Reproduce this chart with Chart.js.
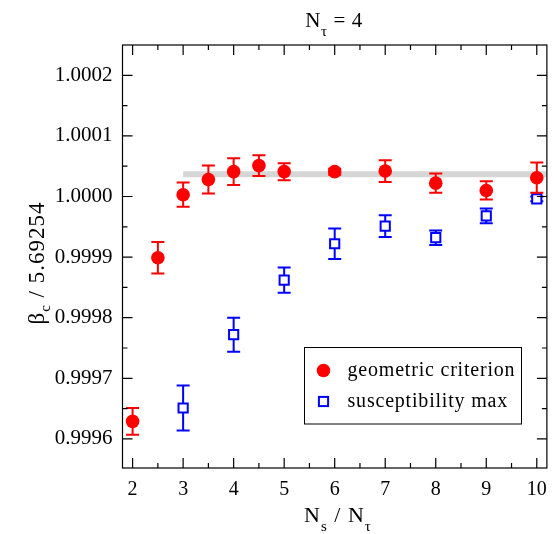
<!DOCTYPE html>
<html>
<head>
<meta charset="utf-8">
<script src="https://cdn.jsdelivr.net/npm/chart.js@4/dist/chart.umd.min.js"></script>
<style>
  body { margin: 0; background: #fff; }
  canvas { display: block; }
</style>
</head>
<body>
<canvas id="myChart" width="557" height="534"></canvas>
<script>
// data
const geoX = [2, 2.5, 3, 3.5, 4, 4.5, 5, 6, 7, 8, 9, 10];
const geoValues = [0.999629, 0.999899, 1.000003, 1.000028, 1.000041, 1.000051, 1.000041, 1.000041, 1.000042, 1.000022, 1.000010, 1.000031];
const geoErrors = [0.000022, 0.000026, 0.000020, 0.000023, 0.000022, 0.000017, 0.000014, 0.000005, 0.000018, 0.000016, 0.000015, 0.000025];

const susX = [3, 4, 5, 6, 7, 8, 9, 10];
const susValues = [0.999651, 0.999772, 0.999862, 0.999922, 0.999951, 0.999932, 0.999968, 0.999996];
const susErrors = [0.000037, 0.000028, 0.000021, 0.000025, 0.000018, 0.000012, 0.000012, 0.000004];

const fitX = [3, 10.2];
const fitValue = 1.0000366;

const xTicks = [2, 3, 4, 5, 6, 7, 8, 9, 10];
const yTicks = [0.9996, 0.9997, 0.9998, 0.9999, 1.0000, 1.0001, 1.0002];

const serif = "'Liberation Serif', 'Times New Roman', serif";
const myChart = document.getElementById("myChart");

const toPoints = (xs, ys) => xs.map((x, i) => ({ x: x, y: ys[i] }));

// draw text with subscripts, parts = [{t, sub}]
const drawParts = (ctx, parts, x, y, size, subSize, subShift, spacing) => {
  ctx.letterSpacing = spacing + "px";
  let widths = parts.map((p) => {
    ctx.font = (p.sub ? subSize : size) + "px " + serif;
    return ctx.measureText(p.t).width;
  });
  let total = widths.reduce((a, b) => a + b, 0);
  let cx = x - total / 2;
  parts.forEach((p, i) => {
    ctx.font = (p.sub ? subSize : size) + "px " + serif;
    ctx.fillText(p.t, cx, y + (p.sub ? subShift : 0));
    cx += widths[i];
  });
  ctx.letterSpacing = "0px";
};

const errorBars = {
  id: "errorBars",
  beforeDatasetDraw(chart, args) {
    const ds = chart.data.datasets[args.index];
    if (!ds.errors) return;
    const ctx = chart.ctx;
    const y = chart.scales.y;
    ctx.save();
    ctx.strokeStyle = ds.borderColor;
    ctx.lineWidth = 2;
    args.meta.data.forEach((pt, j) => {
      const v = ds.data[j].y;
      const e = ds.errors[j];
      const top = y.getPixelForValue(v + e);
      const bot = y.getPixelForValue(v - e);
      ctx.beginPath();
      ctx.moveTo(pt.x, top);
      ctx.lineTo(pt.x, bot);
      ctx.moveTo(pt.x - 6.5, top);
      ctx.lineTo(pt.x + 6.5, top);
      ctx.moveTo(pt.x - 6.5, bot);
      ctx.lineTo(pt.x + 6.5, bot);
      ctx.stroke();
    });
    ctx.restore();
  },
};

const frame = {
  id: "frame",
  afterDraw(chart) {
    const ctx = chart.ctx;
    const a = chart.chartArea;
    const xs = chart.scales.x;
    const ys = chart.scales.y;
    ctx.save();
    ctx.strokeStyle = "#000";
    ctx.lineWidth = 1.2;
    ctx.strokeRect(a.left, a.top, a.right - a.left, a.bottom - a.top);

    // inward ticks on all four sides
    ctx.beginPath();
    for (let v = 2; v <= 10.001; v += 0.5) {
      const px = xs.getPixelForValue(v);
      const len = Number.isInteger(v) ? 10 : 5;
      ctx.moveTo(px, a.bottom);
      ctx.lineTo(px, a.bottom - len);
      ctx.moveTo(px, a.top);
      ctx.lineTo(px, a.top + len);
    }
    for (let k = 0; k <= 12; k++) {
      const v = 0.9996 + k * 0.00005;
      const py = ys.getPixelForValue(v);
      const len = k % 2 === 0 ? 10 : 5;
      ctx.moveTo(a.left, py);
      ctx.lineTo(a.left + len, py);
      ctx.moveTo(a.right, py);
      ctx.lineTo(a.right - len, py);
    }
    ctx.stroke();

    // titles
    ctx.fillStyle = "#000";
    ctx.textBaseline = "alphabetic";
    drawParts(ctx, [{ t: "N" }, { t: "τ", sub: true }, { t: " = 4" }], 334, 27, 21, 15, 9, 0.6);
    drawParts(ctx, [{ t: "N" }, { t: "s", sub: true }, { t: " / N" }, { t: "τ", sub: true }], 338, 522, 22, 15, 9, 1);
    ctx.save();
    ctx.translate(44, 263);
    ctx.rotate(-Math.PI / 2);
    drawParts(ctx, [{ t: "β" }, { t: "c", sub: true }, { t: " / 5.69254" }], 0, 0, 23, 15, 6, 1);
    ctx.restore();

    // legend
    ctx.fillStyle = "#fff";
    ctx.fillRect(304.5, 347.5, 217, 76.5);
    ctx.lineWidth = 1;
    ctx.strokeStyle = "#000";
    ctx.strokeRect(304.5, 347.5, 217, 76.5);
    const geo = chart.data.datasets[0];
    const sus = chart.data.datasets[1];
    ctx.fillStyle = geo.backgroundColor;
    ctx.beginPath();
    ctx.arc(323.5, 370.5, geo.pointRadius, 0, Math.PI * 2);
    ctx.fill();
    ctx.fillStyle = "#fff";
    ctx.strokeStyle = sus.borderColor;
    ctx.lineWidth = 2;
    const s = sus.pointRadius / Math.SQRT2;
    ctx.fillRect(323.5 - s, 401.5 - s, 2 * s, 2 * s);
    ctx.strokeRect(323.5 - s, 401.5 - s, 2 * s, 2 * s);
    ctx.fillStyle = "#000";
    ctx.font = "20px " + serif;
    ctx.letterSpacing = "0.8px";
    ctx.textBaseline = "middle";
    ctx.fillText(geo.label, 347.5, 370.5);
    ctx.fillText(sus.label, 347.5, 401.5);
    ctx.letterSpacing = "0px";
    ctx.restore();
  },
};

let betaChart = new Chart(myChart, {
  type: "scatter",
  data: {
    datasets: [
      {
        label: "geometric criterion",
        data: toPoints(geoX, geoValues),
        errors: geoErrors,
        pointStyle: "circle",
        pointRadius: 6.8,
        backgroundColor: "#ff0000",
        borderColor: "#ff0000",
        borderWidth: 0,
        order: 1,
      },
      {
        label: "susceptibility max",
        data: toPoints(susX, susValues),
        errors: susErrors,
        pointStyle: "rect",
        pointRadius: 6.5,
        backgroundColor: "#ffffff",
        borderColor: "#0000ff",
        borderWidth: 2,
        order: 2,
      },
      {
        type: "line",
        label: "fit",
        data: toPoints(fitX, [fitValue, fitValue]),
        borderColor: "#d6d6d6",
        borderWidth: 6,
        pointRadius: 0,
        fill: false,
        order: 3,
      },
    ],
  },
  options: {
    responsive: false,
    animation: false,
    devicePixelRatio: 1,
    layout: { padding: { top: 45, right: 9, left: 0, bottom: 0 } },
    plugins: {
      legend: { display: false },
      tooltip: { enabled: false },
    },
    scales: {
      x: {
        type: "linear",
        min: 1.8,
        max: 10.2,
        grid: { display: false, drawTicks: false },
        border: { display: false },
        afterBuildTicks: (s) => { s.ticks = xTicks.map((v) => ({ value: v })); },
        afterFit: (s) => { s.height = 66; },
        ticks: {
          autoSkip: false,
          maxRotation: 0,
          padding: 10,
          color: "#000",
          font: { family: serif, size: 20 },
        },
      },
      y: {
        min: 0.999552,
        max: 1.00025,
        grid: { display: false, drawTicks: false },
        border: { display: false },
        afterBuildTicks: (s) => { s.ticks = yTicks.map((v) => ({ value: v })); },
        afterFit: (s) => { s.width = 122.5; },
        ticks: {
          autoSkip: false,
          padding: 10,
          color: "#000",
          font: { family: serif, size: 21 },
          callback: (v) => v.toFixed(4),
        },
      },
    },
  },
  plugins: [errorBars, frame],
});
</script>
</body>
</html>
